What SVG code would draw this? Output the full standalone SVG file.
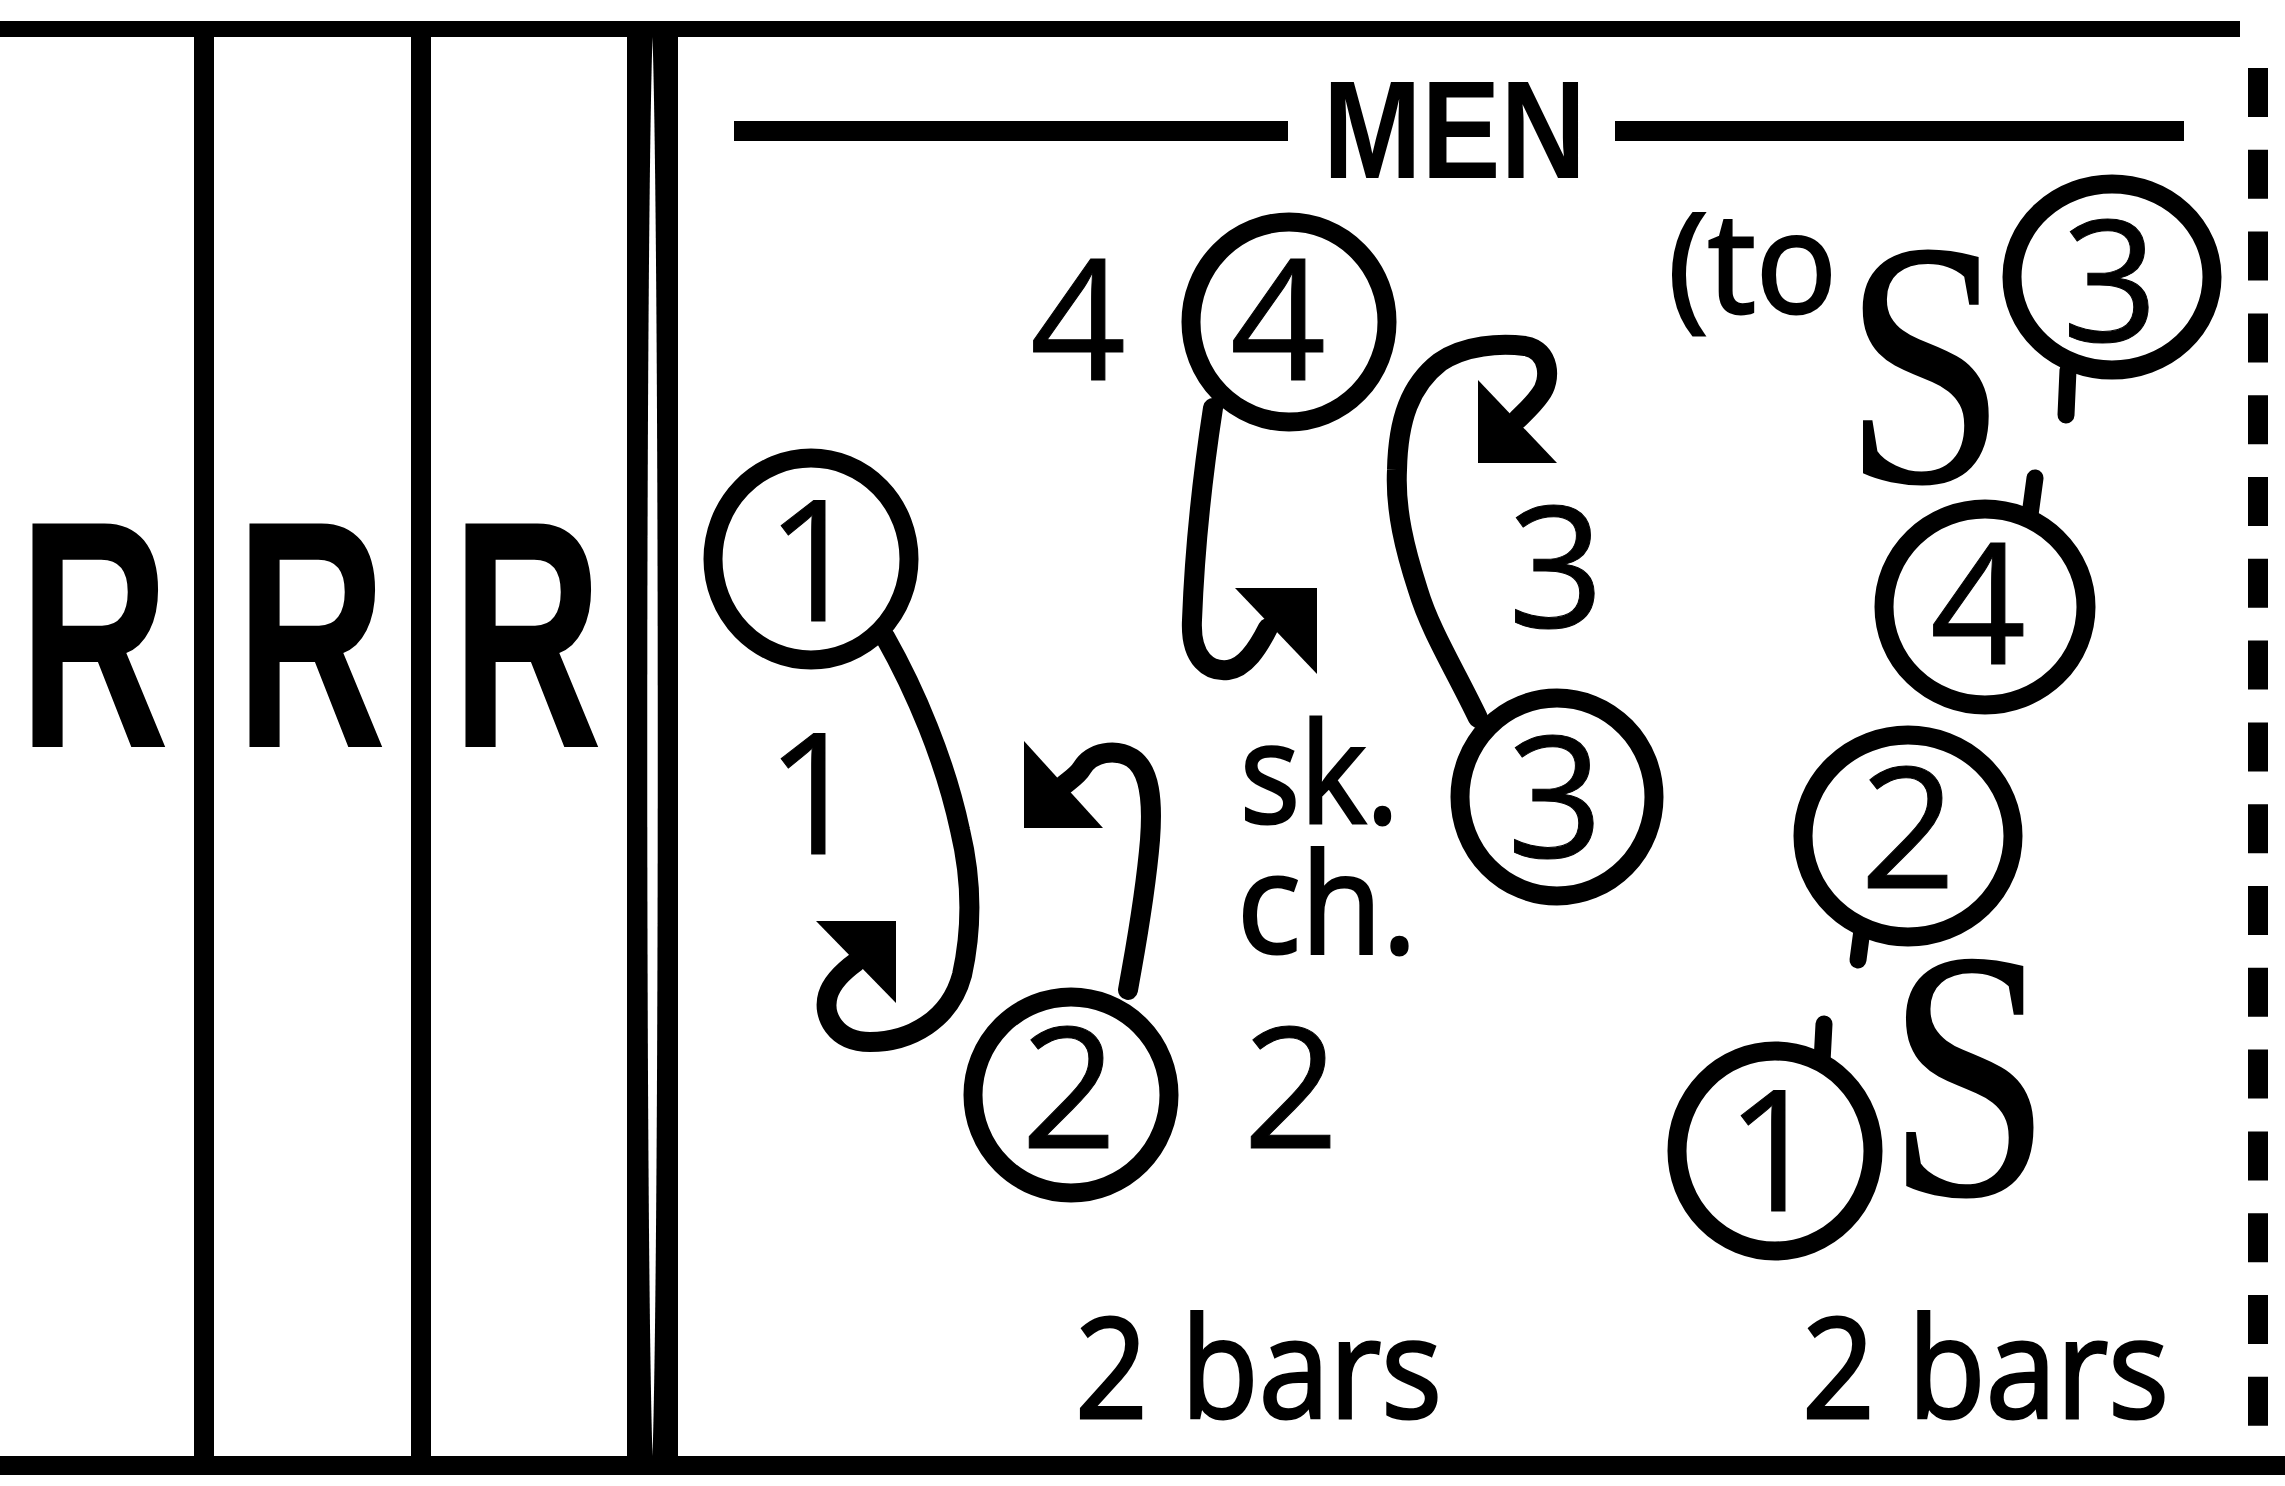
<svg xmlns="http://www.w3.org/2000/svg" width="2285" height="1486" viewBox="0 0 2285 1486">
<style>
  .blk{fill:#000}
  .ring{fill:none;stroke:#000;stroke-width:19}
  .line{fill:none;stroke:#000;stroke-width:20;stroke-linecap:round;stroke-linejoin:round}
  .tail{fill:none;stroke:#000;stroke-width:17;stroke-linecap:round}
  .digit{font-family:"Open Sans","Noto Sans",Roboto,sans-serif;font-size:168px;text-anchor:middle;fill:#000;stroke:#000;stroke-width:1}
  .hand{font-family:"Open Sans","Noto Sans",Roboto,sans-serif;font-size:140px;fill:#000;stroke:#000;stroke-width:3}
  .big{font-family:"Liberation Sans","DejaVu Sans",sans-serif;font-weight:bold;fill:#000}
  .serif{font-family:"Liberation Serif","Times New Roman",serif;fill:#000}
</style>
<rect width="2285" height="1486" fill="#fff"/>
<g id="frame">
  <rect class="blk" x="0" y="21" width="2240" height="16"/>
  <rect class="blk" x="0" y="1456" width="2285" height="19"/>
  <rect class="blk" x="194" y="37" width="20" height="1419"/>
  <rect class="blk" x="411" y="37" width="20" height="1419"/>
  <rect class="blk" x="627" y="37" width="51" height="1419"/>
  <path d="M652.5 37 C645.5 250 645.5 1240 652.5 1456 C659.5 1240 659.5 250 652.5 37 Z" fill="#fff"/>
  <line x1="2258" y1="68" x2="2258" y2="1427" stroke="#000" stroke-width="20" stroke-dasharray="49 32.8"/>
</g>
<g id="letters-R">
  <text class="big" x="18.5" y="747" font-size="325" textLength="151" lengthAdjust="spacingAndGlyphs">R</text>
  <text class="big" x="235.5" y="747" font-size="325" textLength="151" lengthAdjust="spacingAndGlyphs">R</text>
  <text class="big" x="451.5" y="747" font-size="325" textLength="151" lengthAdjust="spacingAndGlyphs">R</text>
</g>
<g id="header">
  <rect class="blk" x="734" y="121" width="554" height="20"/>
  <rect class="blk" x="1615" y="121" width="569" height="20"/>
  <text class="big" x="1323" y="178" font-size="140" textLength="263" lengthAdjust="spacingAndGlyphs">MEN</text>
</g>
<g id="connectors">
  <path class="line" d="M885 637 C915 690 945 760 960 830 C972 880 972 930 962 975 C950 1020 910 1042 870 1042 C835 1042 822 1015 828 995 C832 982 845 970 856 962"/>
  <polygon class="blk" points="816,921 896,921 896,1003"/>
  <path class="line" d="M1213 408 C1205 460 1195 540 1192 620 C1190 660 1210 672 1228 670 C1245 668 1258 648 1268 628"/>
  <polygon class="blk" points="1235,588 1317,588 1317,674"/>
  <path class="line" d="M1478 718 C1455 670 1430 630 1418 590 C1405 550 1395 510 1397 470 C1398 420 1410 385 1440 362 C1465 345 1500 343 1525 346 C1550 350 1552 380 1540 395 C1533 405 1525 412 1517 420"/>
  <polygon class="blk" points="1478,380 1478,463 1557,463"/>
  <path class="line" d="M1128 990 C1135 950 1145 900 1150 840 C1153 800 1150 770 1132 758 C1115 748 1092 752 1082 768 C1078 775 1070 780 1064 785"/>
  <polygon class="blk" points="1024,741 1024,828 1103,828"/>
</g>
<g id="node-4-top">
  <ellipse class="ring" cx="1289" cy="322" rx="98" ry="100"/>
  <text class="digit" x="1278" y="380">4</text>
</g>
<g id="label-4"><text class="digit" x="1078" y="380">4</text></g>
<g id="label-to-S3">
  <text class="hand" x="1668" y="313" textLength="169" lengthAdjust="spacingAndGlyphs">(to</text>
  <text class="serif" x="1843" y="482" font-size="351" textLength="164" lengthAdjust="spacingAndGlyphs">S</text>
</g>
<g id="node-3-top">
  <ellipse class="ring" cx="2112" cy="277" rx="100" ry="93"/>
  <line class="tail" x1="2068" y1="370" x2="2066" y2="415"/>
  <text class="digit" x="2110" y="341">3</text>
</g>
<g id="node-4-right">
  <ellipse class="ring" cx="1985" cy="607" rx="101" ry="98"/>
  <line class="tail" x1="2030" y1="515" x2="2035" y2="478"/>
  <text class="digit" x="1978" y="664">4</text>
</g>
<g id="node-1">
  <ellipse class="ring" cx="811" cy="559" rx="98" ry="101"/>
  <text class="digit" x="814" y="621">1</text>
</g>
<g id="label-1"><text class="digit" x="814" y="854">1</text></g>
<g id="label-3"><text class="digit" x="1556" y="627">3</text></g>
<g id="label-skch">
  <text class="hand" x="1240" y="823" textLength="159" lengthAdjust="spacingAndGlyphs">sk.</text>
  <text class="hand" x="1237" y="953" textLength="180" lengthAdjust="spacingAndGlyphs">ch.</text>
</g>
<g id="node-3-mid">
  <ellipse class="ring" cx="1557" cy="797" rx="97" ry="99"/>
  <text class="digit" x="1555" y="857">3</text>
</g>
<g id="node-2-right">
  <ellipse class="ring" cx="1908" cy="836" rx="105" ry="101"/>
  <line class="tail" x1="1862" y1="930" x2="1858" y2="960"/>
  <text class="digit" x="1908" y="888">2</text>
</g>
<g id="node-2-bottom">
  <ellipse class="ring" cx="1071" cy="1095" rx="98" ry="98"/>
  <text class="digit" x="1069" y="1148">2</text>
</g>
<g id="label-2"><text class="digit" x="1291" y="1148">2</text></g>
<g id="node-1-bottom">
  <ellipse class="ring" cx="1775" cy="1151" rx="98" ry="100"/>
  <line class="tail" x1="1822" y1="1062" x2="1824" y2="1024"/>
  <text class="digit" x="1774" y="1211">1</text>
</g>
<g id="label-S-lower">
  <text class="serif" x="1886" y="1195" font-size="357" textLength="166" lengthAdjust="spacingAndGlyphs">S</text>
</g>
<g id="label-bars">
  <text class="hand" x="1075" y="1418" textLength="367" lengthAdjust="spacingAndGlyphs">2 bars</text>
  <text class="hand" x="1802" y="1418" textLength="367" lengthAdjust="spacingAndGlyphs">2 bars</text>
</g>
</svg>
